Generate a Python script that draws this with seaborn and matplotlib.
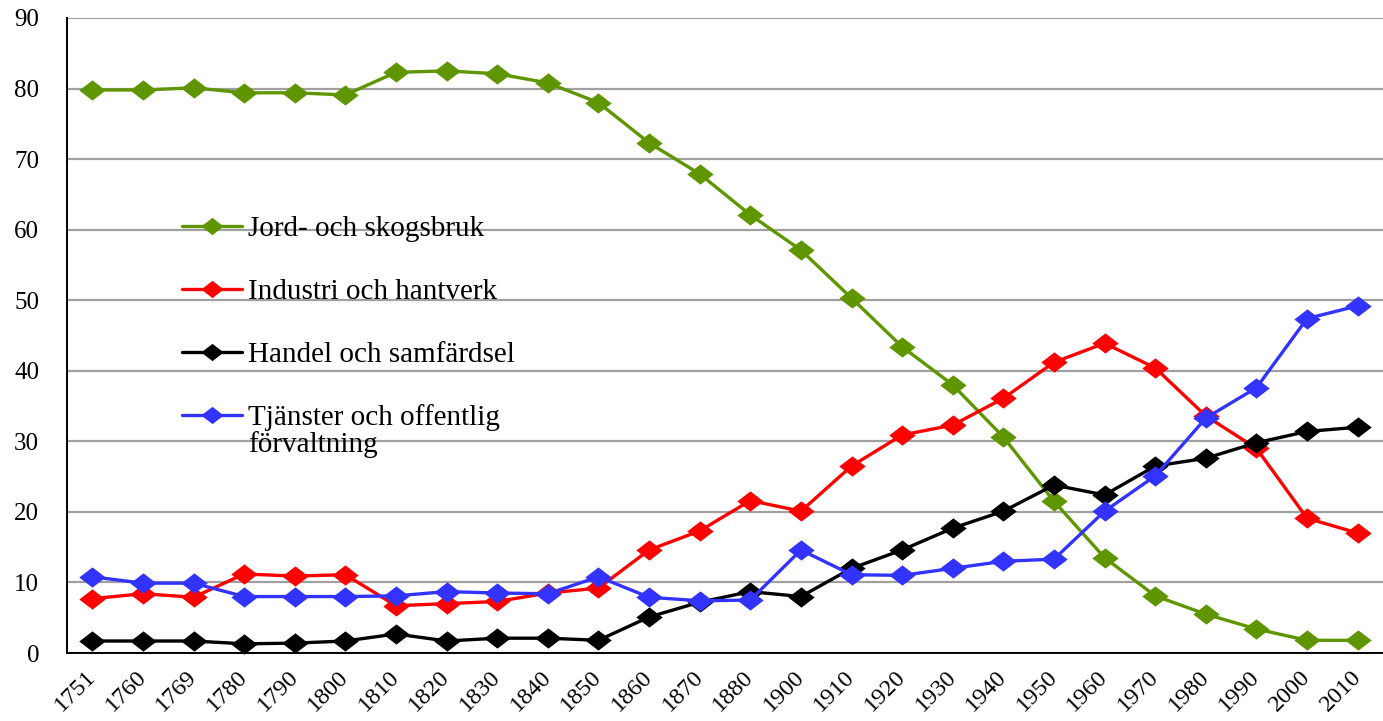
"""Sysselsättning per näringsgren i Sverige 1751-2010."""

import matplotlib

matplotlib.use("Agg")
import matplotlib.pyplot as plt
import numpy as np
import pandas as pd
import seaborn as sns

years = ["1751", "1760", "1769", "1780", "1790", "1800", "1810", "1820", "1830",
         "1840", "1850", "1860", "1870", "1880", "1900", "1910", "1920", "1930",
         "1940", "1950", "1960", "1970", "1980", "1990", "2000", "2010"]

jord = [79.8, 79.8, 80.1, 79.4, 79.4, 79.1, 82.3, 82.5, 82.1, 80.8, 78.0, 72.3, 67.9,
        62.1, 57.1, 50.3, 43.4, 38.0, 30.6, 21.5, 13.5, 8.1, 5.5, 3.4, 1.8, 1.8]
industri = [7.7, 8.4, 7.9, 11.2, 10.9, 11.1, 6.7, 7.0, 7.3, 8.5, 9.2, 14.6, 17.3,
            21.6, 20.1, 26.5, 30.9, 32.3, 36.1, 41.2, 43.9, 40.4, 33.6, 29.0, 19.1, 17.0]
handel = [1.7, 1.7, 1.7, 1.3, 1.4, 1.7, 2.7, 1.7, 2.1, 2.1, 1.8, 5.1, 7.2,
          8.7, 8.0, 12.0, 14.6, 17.7, 20.1, 23.8, 22.4, 26.5, 27.6, 29.8, 31.4, 32.0]
tjanster = [10.8, 9.9, 9.9, 8.0, 8.0, 8.0, 8.1, 8.7, 8.5, 8.4, 10.8, 7.9, 7.4,
            7.5, 14.6, 11.1, 11.0, 12.0, 13.0, 13.3, 20.1, 25.1, 33.3, 37.6, 47.4, 49.2]

labels = ["Jord- och skogsbruk", "Industri och hantverk", "Handel och samfärdsel",
          "Tjänster och offentlig"]
label_rest = "förvaltning"
colors = ["#5f9600", "#ff0000", "#000000", "#3333ff"]

rows = []
for label, values in zip(labels, [jord, industri, handel, tjanster]):
    for i, v in enumerate(values):
        rows.append({"pos": i, "andel": v, "sektor": label})
df = pd.DataFrame(rows)

sns.set_style("white")
plt.rcParams["font.family"] = ["Liberation Serif", "DejaVu Serif"]
plt.rcParams["text.color"] = "black"
plt.rcParams["xtick.labelcolor"] = "black"
plt.rcParams["ytick.labelcolor"] = "black"

fig = plt.figure(figsize=(13.83, 7.21), dpi=100)
ax = fig.add_axes([67 / 1383, 68 / 721, 1316 / 1383, 635 / 721])

# slightly wide diamond, like the source chart
wide_diamond = [(-1.3, 0), (0, 1), (1.3, 0), (0, -1), (-1.3, 0)]

sns.lineplot(data=df, x="pos", y="andel", hue="sektor", hue_order=labels,
             palette=colors, marker=wide_diamond, markersize=19, markeredgewidth=0,
             linewidth=2.4, ax=ax, clip_on=False, zorder=3)

ax.set_xlim(-0.5, 25.3)
ax.set_ylim(0, 90)
ax.set_yticks(np.arange(0, 91, 10))
ax.yaxis.grid(True, color="#a0a0a0", linewidth=1.6)
ax.set_axisbelow(True)

ax.set_xticks(range(len(years)))
ax.set_xticklabels(years, rotation=45, ha="right", va="center",
                   rotation_mode="anchor", fontsize=17.5)
ax.set_xticks(np.arange(-0.5, len(years) - 0.4, 1), minor=True)
ax.tick_params(axis="x", which="major", length=0, pad=15)
ax.tick_params(axis="x", which="minor", length=6.5, width=1.2, direction="out", color="black")
ax.tick_params(axis="y", length=7, width=1.2, direction="out", color="black",
               labelsize=18, pad=13)
ax.set_xlabel("")
ax.set_ylabel("")

for side in ["top", "right"]:
    ax.spines[side].set_visible(False)
for side in ["left", "bottom"]:
    ax.spines[side].set_color("black")
    ax.spines[side].set_linewidth(1.4)

leg = ax.legend(loc="upper left", bbox_to_anchor=(0.0674, 0.730), frameon=False,
                fontsize=21, handlelength=2.05, labelspacing=1.25, handletextpad=0.2,
                markerscale=0.85)
last = leg.get_texts()[-1]
ax.annotate(label_rest, xy=(0, 0), xycoords=last, xytext=(0, 0),
            textcoords="offset points", ha="left", va="top", fontsize=21, zorder=6)

fig.canvas.draw()
fig.savefig("out.png", dpi=100)
